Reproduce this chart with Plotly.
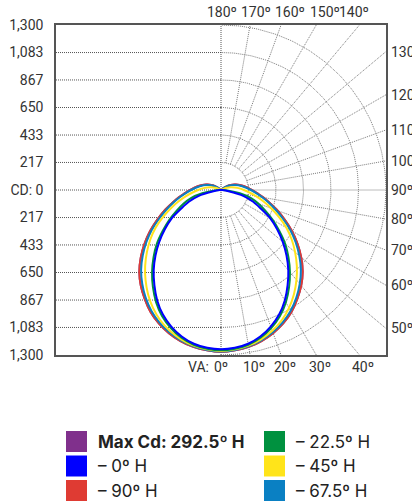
import numpy as np
import plotly.graph_objects as go

# ---------------- data (candela vs vertical angle, 0 = straight down) ----------------
ANGLES = list(range(0, 181, 5))

MAX_292_5 = [1275, 1268, 1255, 1232, 1200, 1160, 1110, 1048, 983, 910, 825, 735, 645, 555,
             475, 400, 340, 285, 245, 210, 180, 152, 125, 100, 70, 40, 15, 0,
             0, 0, 0, 0, 0, 0, 0, 0, 0]
H_90 = [1275, 1268, 1255, 1232, 1200, 1160, 1110, 1048, 983, 910, 825, 735, 645, 555,
        475, 400, 340, 285, 245, 210, 180, 152, 125, 100, 70, 40, 15, 0,
        0, 0, 0, 0, 0, 0, 0, 0, 0]
H_67_5 = [1272, 1265, 1250, 1226, 1192, 1150, 1098, 1035, 965, 890, 805, 718, 630, 540,
          460, 390, 330, 278, 235, 200, 170, 142, 115, 90, 62, 35, 12, 0,
          0, 0, 0, 0, 0, 0, 0, 0, 0]
H_45 = [1268, 1260, 1245, 1218, 1180, 1132, 1072, 1002, 925, 845, 762, 680, 595, 505,
        420, 345, 280, 225, 180, 145, 110, 80, 50, 25, 8, 0,
        0, 0, 0, 0, 0, 0, 0, 0, 0, 0, 0]
H_22_5 = [1262, 1255, 1238, 1205, 1157, 1097, 1022, 935, 845, 752, 660, 560, 470, 385,
          315, 245, 150, 60, 15, 0,
          0, 0, 0, 0, 0, 0, 0, 0, 0, 0, 0, 0, 0, 0, 0, 0, 0]
H_0 = [1255, 1248, 1230, 1195, 1145, 1083, 1005, 915, 825, 730, 635, 540, 450, 345,
       270, 185, 60, 10, 0,
       0, 0, 0, 0, 0, 0, 0, 0, 0, 0, 0, 0, 0, 0, 0, 0, 0, 0]

SERIES_NAMES = ["Max Cd: 292.5º H", "– 0º H", "– 22.5º H", "– 45º H", "– 67.5º H", "– 90º H"]
SERIES_VALUES = [MAX_292_5, H_0, H_22_5, H_45, H_67_5, H_90]
SERIES_COLORS = ["#80308C", "#0000FF", "#00913F", "#FFE41A", "#0A80C3", "#DF3B33"]
DRAW_ORDER = [0, 5, 4, 3, 2, 1]

Y_TICK_VALUES = [1300, 1083, 867, 650, 433, 217, 0, -217, -433, -650, -867, -1083, -1300]
Y_TICK_LABELS = ["1,300", "1,083", "867", "650", "433", "217", "CD: 0",
                 "217", "433", "650", "867", "1,083", "1,300"]

TOP_LABELS = ["180º", "170º", "160º", "150º", "140º"]
RIGHT_ANGLES = [130, 120, 110, 100, 90, 80, 70, 60, 50]
BOTTOM_ANGLES = [0, 10, 20, 30, 40]

LEGEND_ORDER = [0, 2, 1, 3, 5, 4]   # two columns, three rows

# ---------------- layout geometry ----------------
W, H = 412, 504
ML, MR, MT, MB = 56, 26, 25, 149
PW, PH = W - ML - MR, H - MT - MB
RMAX = 1300.0
FONT = "Roboto"
LFONT = "Inter"
TXT = "#333333"


def px_to_paper(px, py):
    return (px - ML) / PW, (MT + PH - py) / PH


fig = go.Figure()

# ---------------- grid ----------------
gx, gy = [], []
for v in Y_TICK_VALUES[1:-1]:
    gx += [-RMAX, 0, None]
    gy += [v, v, None]
gx += [0, 0, None]
gy += [-RMAX, RMAX, None]
fig.add_trace(go.Scatter(x=gx, y=gy, mode="lines", hoverinfo="skip", showlegend=False,
                         line=dict(color="#555555", width=1, dash="1px,1px")))

th = np.radians(np.linspace(0, 180, 181))
cx, cy = [], []
step = RMAX / 6
for k in range(1, 7):
    r = k * step
    cx += list(r * np.sin(th)) + [None]
    cy += list(-r * np.cos(th)) + [None]
for a in range(10, 180, 10):
    t = np.radians(a)
    s, c = np.sin(t), -np.cos(t)
    tmax = min(RMAX / abs(s), RMAX / abs(c) if abs(c) > 1e-9 else 1e9)
    cx += [step * s, tmax * s, None]
    cy += [step * c, tmax * c, None]
fig.add_trace(go.Scatter(x=cx, y=cy, mode="lines", hoverinfo="skip", showlegend=False,
                         line=dict(color="#7a7a7a", width=1, dash="1px,1px")))

# ---------------- curves ----------------
ang = np.radians(np.array(ANGLES, dtype=float))
for i in DRAW_ORDER:
    v = np.array(SERIES_VALUES[i], dtype=float)
    xr, yr = v * np.sin(ang), -v * np.cos(ang)
    x = np.concatenate([xr, -xr[::-1]])
    y = np.concatenate([yr, yr[::-1]])
    fig.add_trace(go.Scatter(x=x, y=y, mode="lines", name=SERIES_NAMES[i],
                             showlegend=False, hoverinfo="skip",
                             line=dict(color=SERIES_COLORS[i], width=2, shape="spline",
                                       smoothing=0.8)))

# ---------------- angle labels ----------------
ann = []
top_px = [222, 256, 290, 325, 354]
for lab, px in zip(TOP_LABELS, top_px):
    xp, yp = px_to_paper(px, 12)
    ann.append(dict(x=xp, y=yp, xref="paper", yref="paper", text=lab, showarrow=False,
                    xanchor="center", yanchor="middle", font=dict(size=14, color=TXT, family=FONT)))
for a in RIGHT_ANGLES:
    t = np.radians(a)
    yv = -RMAX * np.cos(t) / np.sin(t)
    ann.append(dict(x=1, y=yv, xref="paper", yref="y", text=f"{a}º", showarrow=False,
                    xanchor="left", yanchor="middle", xshift=3,
                    font=dict(size=14, color=TXT, family=FONT)))
for a in BOTTOM_ANGLES:
    t = np.radians(a)
    xv = RMAX * np.tan(t)
    ann.append(dict(x=xv, y=0, xref="x", yref="paper", text=f"{a}º", showarrow=False,
                    xanchor="center", yanchor="middle", yshift=-12, xshift=(0 if a == 0 else 4),
                    font=dict(size=14, color=TXT, family=FONT)))
ann.append(dict(x=0, y=0, xref="x", yref="paper", text="VA:", showarrow=False,
                xanchor="right", yanchor="middle", yshift=-12, xshift=-10,
                font=dict(size=14, color=TXT, family=FONT)))

# ---------------- legend (swatches + text) ----------------
shapes = []
col_px = [66, 264]
row_px = [431, 455.5, 480]
for slot, idx in enumerate(LEGEND_ORDER):
    col, row = slot % 2, slot // 2
    x0, y0 = px_to_paper(col_px[col], row_px[row])
    x1, y1 = px_to_paper(col_px[col] + 21, row_px[row] + 21)
    shapes.append(dict(type="rect", xref="paper", yref="paper", x0=x0, x1=x1, y0=y1, y1=y0,
                       fillcolor=SERIES_COLORS[idx], line=dict(width=0)))
    tx, ty = px_to_paper(col_px[col] + 30, row_px[row] + 10.5)
    label = SERIES_NAMES[idx]
    if idx == 0:
        label = f"<b>{label}</b>"
    ann.append(dict(x=tx, y=ty, xref="paper", yref="paper", text=label, showarrow=False,
                    xanchor="left", yanchor="middle",
                    font=dict(size=17, color="#222222", family=LFONT)))

fig.update_layout(
    width=W, height=H,
    margin=dict(l=ML, r=MR, t=MT, b=MB, pad=0, autoexpand=False),
    paper_bgcolor="white", plot_bgcolor="white",
    showlegend=False,
    annotations=ann, shapes=shapes,
    font=dict(family=FONT, color=TXT, size=14),
)
fig.update_xaxes(range=[-RMAX, RMAX], showgrid=False, zeroline=False, showticklabels=False,
                 showline=True, mirror=True, linecolor="#555555", linewidth=1.5, ticks="",
                 automargin=False)
fig.update_yaxes(range=[-RMAX, RMAX], showgrid=False, zeroline=False,
                 tickmode="array", tickvals=Y_TICK_VALUES, ticktext=Y_TICK_LABELS,
                 ticklabelstandoff=8, tickfont=dict(size=14, color=TXT, family=FONT),
                 showline=True, mirror=True, linecolor="#555555", linewidth=1.5, ticks="",
                 automargin=False)

fig.write_html("out.html", config={"displayModeBar": False},
               post_script="document.body.style.margin='0';")
